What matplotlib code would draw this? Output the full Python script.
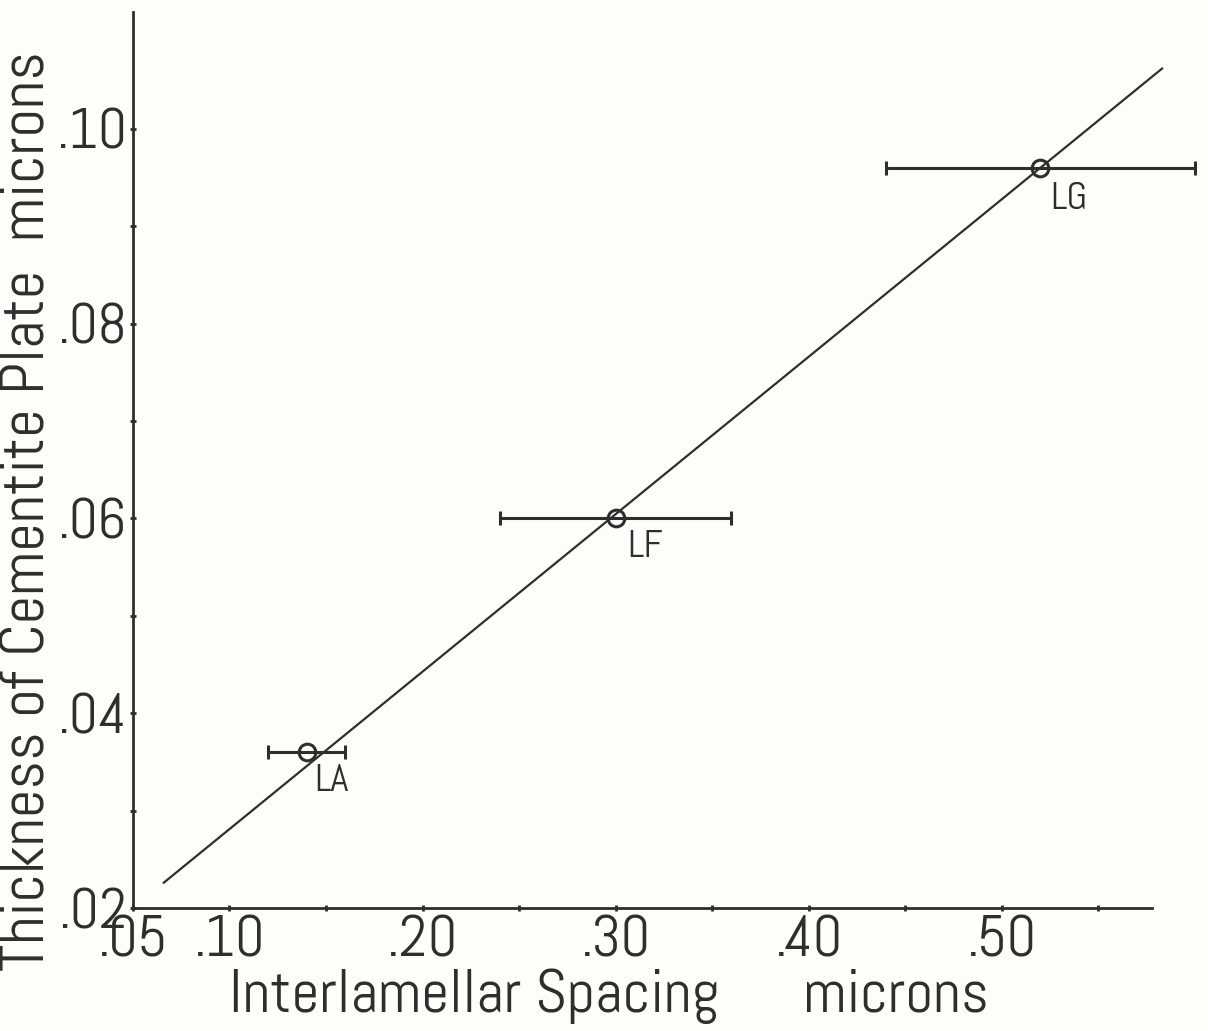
import matplotlib
matplotlib.use("Agg")
import matplotlib.pyplot as plt

# Data
samples = ["LA", "LF", "LG"]
spacing = [0.14, 0.30, 0.52]          # interlamellar spacing, microns
thickness = [0.036, 0.060, 0.096]     # cementite plate thickness, microns
spacing_low = [0.12, 0.24, 0.44]
spacing_high = [0.16, 0.36, 0.60]

fit_x = [0.066, 0.583]
fit_y = [0.0226, 0.1062]

x_ticks = [0.05, 0.10, 0.20, 0.30, 0.40, 0.50]
x_ticklabels = [".05", ".10", ".20", ".30", ".40", ".50"]
x_minor = [0.15, 0.25, 0.35, 0.45, 0.55]
y_ticks = [0.02, 0.04, 0.06, 0.08, 0.10]
y_ticklabels = [".02", ".04", ".06", ".08", ".10"]
y_minor = [0.03, 0.05, 0.07, 0.09]

ink = "#2e2e2e"
bg = "#fdfdf9"
fam = ["Abel", "DejaVu Sans"]

fig = plt.figure(figsize=(12.08, 10.31), dpi=100, facecolor=bg)
ax = fig.add_axes([0.110, 0.1193, 0.844, 0.869], facecolor=bg)

ax.plot(fit_x, fit_y, color=ink, lw=1.6, zorder=2, clip_on=False)

xerr = [[s - lo for s, lo in zip(spacing, spacing_low)],
        [hi - s for s, hi in zip(spacing, spacing_high)]]
eb = ax.errorbar(spacing, thickness, xerr=xerr, fmt="o", ms=12, mfc="none",
                 mec=ink, mew=2.2, ecolor=ink, elinewidth=2.2, capsize=5,
                 capthick=2.2, zorder=3)
eb.lines[0].set_clip_on(False)
for c in eb.lines[1]:
    c.set_clip_on(False)
for c in eb.lines[2]:
    c.set_clip_on(False)

offsets = {"LA": (0.004, -0.0030), "LF": (0.006, -0.0030), "LG": (0.005, -0.0032)}
for name, xv, yv in zip(samples, spacing, thickness):
    dx, dy = offsets[name]
    ax.text(xv + dx, yv + dy, name, fontsize=28, color=ink, ha="left",
            va="center", family=fam)

ax.set_xlim(0.05, 0.578)
ax.set_ylim(0.02, 0.112)

for s in ["top", "right"]:
    ax.spines[s].set_visible(False)
for s in ["left", "bottom"]:
    ax.spines[s].set_color(ink)
    ax.spines[s].set_linewidth(2.0)

ax.set_xticks(x_ticks)
ax.set_xticklabels(x_ticklabels)
ax.set_xticks(x_minor, minor=True)
ax.set_yticks(y_ticks)
ax.set_yticklabels(y_ticklabels)
ax.set_yticks(y_minor, minor=True)
ax.tick_params(which="both", direction="inout", length=5, width=2, color=ink)
ax.tick_params(axis="x", pad=3, labelsize=42, labelcolor=ink)
ax.tick_params(axis="y", pad=2, labelsize=41, labelcolor=ink)
for lab in ax.get_xticklabels() + ax.get_yticklabels():
    lab.set_fontfamily(fam)

ax.set_xlabel("Interlamellar Spacing      microns", fontsize=44,
              color=ink, family=fam)
ax.xaxis.set_label_coords(0.4667, -0.068)
ax.set_ylabel("Thickness of Cementite Plate  microns", fontsize=45,
              color=ink, family=fam)
ax.yaxis.set_label_coords(-0.074, 0.443)

fig.savefig("out.png", dpi=100, facecolor=bg)
